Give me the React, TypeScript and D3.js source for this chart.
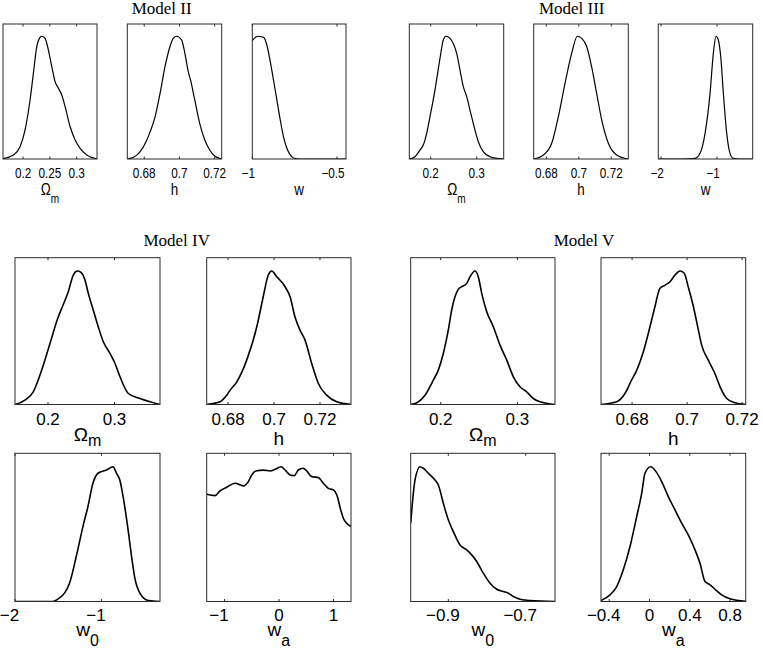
import React from "react";
import * as d3 from "d3";

// ---------------- data (x in parameter units, y = normalised posterior) ----------------
const m2OmegaM: [number, number][] = [
  [0.162, 0.003], [0.1819, 0.033], [0.1944, 0.1], [0.2037, 0.236], [0.2131, 0.481], [0.2193, 0.698],
  [0.2256, 0.915], [0.2305, 0.983], [0.2349, 1.0], [0.2411, 0.983], [0.2473, 0.888], [0.2536, 0.752],
  [0.2598, 0.63], [0.266, 0.576], [0.2723, 0.521], [0.2785, 0.426], [0.2879, 0.263], [0.2972, 0.155],
  [0.3065, 0.087], [0.319, 0.033], [0.338, 0.002],
];
const m2H: [number, number][] = [
  [0.6706, 0.002], [0.674, 0.014], [0.6777, 0.06], [0.6815, 0.155], [0.6834, 0.223], [0.6862, 0.345],
  [0.689, 0.535], [0.6918, 0.752], [0.6946, 0.915], [0.6965, 0.983], [0.6984, 1.0], [0.7012, 0.97],
  [0.7031, 0.861], [0.705, 0.712], [0.7063, 0.644], [0.7087, 0.481], [0.7115, 0.291], [0.7144, 0.155],
  [0.7172, 0.073], [0.72, 0.024], [0.7238, 0.002],
];
const m2W: [number, number][] = [
  [-1.0, 0.965], [-0.969, 1.0], [-0.934, 0.991], [-0.914, 0.929], [-0.894, 0.793], [-0.875, 0.644],
  [-0.855, 0.481], [-0.835, 0.318], [-0.816, 0.182], [-0.796, 0.087], [-0.776, 0.033], [-0.757, 0.008],
  [-0.718, 0.0], [-0.447, 0.0],
];
const m3OmegaM: [number, number][] = [
  [0.1535, 0.0], [0.1659, 0.019], [0.1767, 0.073], [0.1839, 0.114], [0.1913, 0.209], [0.1985, 0.345],
  [0.2093, 0.562], [0.2202, 0.82], [0.2274, 0.97], [0.2333, 1.0], [0.242, 0.983], [0.2491, 0.942],
  [0.2565, 0.861], [0.2637, 0.725], [0.2709, 0.589], [0.2783, 0.508], [0.2854, 0.399], [0.2963, 0.236],
  [0.3035, 0.141], [0.3143, 0.06], [0.3289, 0.019], [0.3435, 0.005], [0.3587, 0.0],
];
const m3H: [number, number][] = [
  [0.6722, 0.0], [0.6782, 0.033], [0.6833, 0.128], [0.6874, 0.345], [0.6915, 0.617], [0.6956, 0.861],
  [0.6991, 1.0], [0.7018, 0.983], [0.7049, 0.915], [0.7079, 0.752], [0.711, 0.535], [0.7141, 0.318],
  [0.7182, 0.128], [0.7233, 0.033], [0.7305, 0.0],
];
const m3W: [number, number][] = [
  [-2.05, 0.0], [-1.6, 0.0], [-1.393, 0.005], [-1.304, 0.046], [-1.214, 0.209], [-1.125, 0.535],
  [-1.066, 0.861], [-1.018, 1.0], [-0.977, 0.97], [-0.934, 0.834], [-0.887, 0.535], [-0.827, 0.209],
  [-0.768, 0.046], [-0.709, 0.005], [-0.6, 0.0], [-0.3625, 0.0],
];
const m4OmegaM: [number, number][] = [
  [0.1504, 0.0], [0.1654, 0.0325], [0.1779, 0.095], [0.1905, 0.2575], [0.203, 0.4575], [0.2155, 0.6575],
  [0.2206, 0.72], [0.2305, 0.845], [0.238, 0.97], [0.2441, 1.0], [0.2496, 0.99], [0.2556, 0.9325],
  [0.2606, 0.8325], [0.2681, 0.7075], [0.2756, 0.5825], [0.2832, 0.47], [0.2932, 0.3825], [0.3008, 0.3075],
  [0.3083, 0.2075], [0.3208, 0.0825], [0.3383, 0.045], [0.3534, 0.02], [0.3684, 0.0],
];
const m4H: [number, number][] = [
  [0.6707, 0.0], [0.6765, 0.02], [0.6794, 0.07], [0.6809, 0.1075], [0.6838, 0.17], [0.6881, 0.3325],
  [0.6925, 0.5825], [0.6953, 0.8075], [0.6975, 0.97], [0.699, 1.0], [0.7012, 0.9575], [0.7048, 0.8825],
  [0.707, 0.8075], [0.7091, 0.6575], [0.7113, 0.5575], [0.7135, 0.4825], [0.7164, 0.3075], [0.7193, 0.1575],
  [0.7229, 0.07], [0.7273, 0.02], [0.7335, 0.0],
];
const m4W0: [number, number][] = [
  [-2.0, 0.0], [-1.563, 0.0], [-1.505, 0.0173], [-1.427, 0.0618], [-1.369, 0.136], [-1.291, 0.334],
  [-1.214, 0.556], [-1.156, 0.705], [-1.098, 0.878], [-1.04, 0.952], [-0.942, 0.976], [-0.865, 1.0],
  [-0.826, 0.952], [-0.787, 0.902], [-0.749, 0.779], [-0.691, 0.531], [-0.651, 0.334], [-0.613, 0.173],
  [-0.555, 0.0618], [-0.458, 0.0074], [-0.322, 0.0],
];
const m4Wa: [number, number][] = [
  [-1.327, 0.796], [-1.174, 0.786], [-1.083, 0.821], [-0.96, 0.848], [-0.807, 0.878], [-0.655, 0.858],
  [-0.563, 0.89], [-0.501, 0.939], [-0.409, 0.971], [-0.288, 0.975], [-0.165, 0.969], [-0.073, 0.981],
  [0.037, 1.0], [0.11, 0.976], [0.202, 0.939], [0.281, 0.934], [0.354, 0.976], [0.446, 0.989],
  [0.508, 0.969], [0.6, 0.927], [0.721, 0.92], [0.813, 0.878], [0.905, 0.84], [0.997, 0.828],
  [1.07, 0.779], [1.132, 0.68], [1.18, 0.618], [1.242, 0.581], [1.321, 0.556],
];
const m5OmegaM: [number, number][] = [
  [0.1609, 0.0], [0.1708, 0.02], [0.1795, 0.07], [0.1904, 0.1825], [0.1969, 0.2575], [0.2034, 0.3825],
  [0.2099, 0.5575], [0.2143, 0.7075], [0.2186, 0.8075], [0.2229, 0.8625], [0.2274, 0.8825], [0.2339, 0.9075],
  [0.2382, 0.9575], [0.2447, 1.0], [0.249, 0.9575], [0.2535, 0.8325], [0.26, 0.695], [0.2686, 0.5825],
  [0.2773, 0.445], [0.2861, 0.3325], [0.2947, 0.2075], [0.3034, 0.1325], [0.3121, 0.095], [0.3207, 0.045],
  [0.3295, 0.02], [0.349, 0.0],
];
const m5H: [number, number][] = [
  [0.6687, 0.0], [0.6744, 0.02], [0.6774, 0.0825], [0.6798, 0.1825], [0.6817, 0.2575], [0.6841, 0.395],
  [0.6865, 0.5825], [0.6883, 0.7325], [0.6901, 0.87], [0.692, 0.895], [0.6938, 0.92], [0.6956, 0.97],
  [0.6974, 1.0], [0.6989, 0.985], [0.7004, 0.8825], [0.7023, 0.7325], [0.7041, 0.5575], [0.7053, 0.445],
  [0.7077, 0.3325], [0.7101, 0.2325], [0.712, 0.1325], [0.7144, 0.045], [0.7174, 0.0125], [0.7213, 0.0],
];
const m5W0: [number, number][] = [
  [-0.9972, 0.581], [-0.986, 0.902], [-0.9731, 1.0], [-0.9646, 0.989], [-0.9517, 0.952], [-0.9344, 0.902],
  [-0.9258, 0.865], [-0.9129, 0.73], [-0.9, 0.606], [-0.8871, 0.519], [-0.8698, 0.42], [-0.8525, 0.383],
  [-0.8396, 0.346], [-0.8266, 0.297], [-0.8096, 0.21], [-0.7922, 0.136], [-0.7749, 0.091], [-0.7579, 0.074],
  [-0.745, 0.062], [-0.732, 0.037], [-0.7147, 0.017], [-0.6889, 0.007], [-0.6243, 0.0],
];
const m5Wa: [number, number][] = [
  [-0.4816, 0.0074], [-0.3923, 0.049], [-0.3257, 0.111], [-0.2602, 0.235], [-0.1936, 0.408], [-0.1271, 0.63],
  [-0.0775, 0.803], [-0.0447, 0.952], [0.0119, 1.0], [0.0645, 0.964], [0.1211, 0.89], [0.1867, 0.779],
  [0.2532, 0.68], [0.3197, 0.581], [0.3853, 0.494], [0.4518, 0.383], [0.5015, 0.284], [0.5511, 0.148],
  [0.6008, 0.124], [0.6504, 0.091], [0.7169, 0.049], [0.7994, 0.02], [0.9553, 0.002],
];

// axis limits
const domM2Om: [number, number] = [0.1626, 0.338];
const domM2H: [number, number] = [0.6704, 0.724];
const domM2W: [number, number] = [-1.0, -0.447];
const domM3Om: [number, number] = [0.1535, 0.3587];
const domM3H: [number, number] = [0.6722, 0.7305];
const domM3W: [number, number] = [-2.05, -0.3625];
const domM4Om: [number, number] = [0.1504, 0.3684];
const domM4H: [number, number] = [0.6707, 0.7335];
const domM4W0: [number, number] = [-2.0, -0.322];
const domM4Wa: [number, number] = [-1.327, 1.321];
const domM5Om: [number, number] = [0.1609, 0.349];
const domM5H: [number, number] = [0.6687, 0.7213];
const domM5W0: [number, number] = [-0.9972, -0.6243];
const domM5Wa: [number, number] = [-0.4816, 0.9553];
const yDomain: [number, number] = [0, 1.1];

// tick values and labels
const ticksOmA = [0.2, 0.25, 0.3];
const labelsOmA = ["0.2", "0.25", "0.3"];
const ticksOm = [0.2, 0.3];
const labelsOm = ["0.2", "0.3"];
const ticksH = [0.68, 0.7, 0.72];
const labelsH = ["0.68", "0.7", "0.72"];
const ticksM2W = [-1, -0.5];
const labelsM2W = ["\u22121", "\u22120.5"];
const ticksM3W = [-2, -1];
const labelsM3W = ["\u22122", "\u22121"];
const ticksM4W0 = [-2, -1];
const labelsM4W0 = ["\u22122", "\u22121"];
const ticksM4Wa = [-1, 0, 1];
const labelsM4Wa = ["\u22121", "0", "1"];
const ticksM5W0 = [-0.9, -0.7];
const labelsM5W0 = ["\u22120.9", "\u22120.7"];
const ticksM5Wa = [-0.4, 0, 0.4, 0.8];
const labelsM5Wa = ["\u22120.4", "0", "0.4", "0.8"];

const titles = [
  { text: "Model II", x: 161.7, y: 13.5 },
  { text: "Model III", x: 571.7, y: 13.5 },
  { text: "Model IV", x: 176.7, y: 246 },
  { text: "Model V", x: 584, y: 246 },
];

// ---------------- layout ----------------
const SANS = "'Liberation Sans', Arial, Helvetica, sans-serif";
const SERIF = "'Liberation Serif', 'Times New Roman', serif";

type RowStyle = {
  y0: number; y1: number; tickSize: number; scaleX: number; tickOff: number;
  labSize: number; subSize: number; labOff: number; plainOff: number; subDy: number;
  negDx: number; lw: number;
};
const ROW1: RowStyle = { y0: 24, y1: 159, tickSize: 14, scaleX: 0.84, tickOff: 19, labSize: 16, subSize: 12, labOff: 36, plainOff: 36, subDy: 8, negDx: -4, lw: 1.2 };
const ROW2: RowStyle = { y0: 257.7, y1: 404.5, tickSize: 17, scaleX: 1, tickOff: 20.5, labSize: 19, subSize: 16, labOff: 36, plainOff: 40.5, subDy: 5, negDx: -5.5, lw: 1.6 };
const ROW3: RowStyle = { y0: 453.3, y1: 601.5, tickSize: 17, scaleX: 1, tickOff: 19, labSize: 19, subSize: 16, labOff: 34, plainOff: 34, subDy: 10, negDx: -5.5, lw: 1.6 };

type Panel = {
  id: string; x0: number; x1: number; row: RowStyle; domain: [number, number];
  ticks: number[]; labels: string[]; main: string; sub?: string; data: [number, number][];
};

const panels: Panel[] = [
  { id: "p1", x0: 3, x1: 97, row: ROW1, domain: domM2Om, ticks: ticksOmA, labels: labelsOmA, main: "\u03A9", sub: "m", data: m2OmegaM },
  { id: "p2", x0: 127.3, x1: 221.7, row: ROW1, domain: domM2H, ticks: ticksH, labels: labelsH, main: "h", data: m2H },
  { id: "p3", x0: 252.3, x1: 346, row: ROW1, domain: domM2W, ticks: ticksM2W, labels: labelsM2W, main: "w", data: m2W },
  { id: "p4", x0: 409.3, x1: 503.7, row: ROW1, domain: domM3Om, ticks: ticksOm, labels: labelsOm, main: "\u03A9", sub: "m", data: m3OmegaM },
  { id: "p5", x0: 533.7, x1: 628.3, row: ROW1, domain: domM3H, ticks: ticksH, labels: labelsH, main: "h", data: m3H },
  { id: "p6", x0: 658.3, x1: 752.7, row: ROW1, domain: domM3W, ticks: ticksM3W, labels: labelsM3W, main: "w", data: m3W },
  { id: "p7", x0: 15, x1: 160, row: ROW2, domain: domM4Om, ticks: ticksOm, labels: labelsOm, main: "\u03A9", sub: "m", data: m4OmegaM },
  { id: "p8", x0: 206.7, x1: 351, row: ROW2, domain: domM4H, ticks: ticksH, labels: labelsH, main: "h", data: m4H },
  { id: "p9", x0: 410.7, x1: 555, row: ROW2, domain: domM5Om, ticks: ticksOm, labels: labelsOm, main: "\u03A9", sub: "m", data: m5OmegaM },
  { id: "p10", x0: 601, x1: 745.7, row: ROW2, domain: domM5H, ticks: ticksH, labels: labelsH, main: "h", data: m5H },
  { id: "p11", x0: 15, x1: 160, row: ROW3, domain: domM4W0, ticks: ticksM4W0, labels: labelsM4W0, main: "w", sub: "0", data: m4W0 },
  { id: "p12", x0: 206.7, x1: 351, row: ROW3, domain: domM4Wa, ticks: ticksM4Wa, labels: labelsM4Wa, main: "w", sub: "a", data: m4Wa },
  { id: "p13", x0: 410.7, x1: 555, row: ROW3, domain: domM5W0, ticks: ticksM5W0, labels: labelsM5W0, main: "w", sub: "0", data: m5W0 },
  { id: "p14", x0: 601, x1: 745.7, row: ROW3, domain: domM5Wa, ticks: ticksM5Wa, labels: labelsM5Wa, main: "w", sub: "a", data: m5Wa },
];

function PanelView({ p }: { p: Panel }) {
  const r = p.row;
  const xs = d3.scaleLinear().domain(p.domain).range([p.x0, p.x1]);
  const ys = d3.scaleLinear().domain(yDomain).range([r.y1, r.y0]);
  const line = d3
    .line<[number, number]>()
    .x((d) => xs(d[0]))
    .y((d) => ys(d[1]))
    .curve(d3.curveMonotoneX);
  const cx = (p.x0 + p.x1) / 2;
  const labY = r.y1 + (p.sub ? r.labOff : r.plainOff);
  const tl = 2.5;
  return (
    <g>
      <defs>
        <clipPath id={"clip-" + p.id}>
          <rect x={p.x0} y={r.y0} width={p.x1 - p.x0} height={r.y1 - r.y0} />
        </clipPath>
      </defs>
      <path d={line(p.data) || ""} fill="none" stroke="#000" strokeWidth={r.lw} strokeLinejoin="round" clipPath={`url(#clip-${p.id})`} />
      <rect x={p.x0} y={r.y0} width={p.x1 - p.x0} height={r.y1 - r.y0} fill="none" stroke="#2a2a2a" strokeWidth={1} />
      {p.ticks.map((t, i) => {
        const x = xs(t);
        return (
          <g key={i}>
            <line x1={x} x2={x} y1={r.y1} y2={r.y1 - tl} stroke="#2a2a2a" strokeWidth={1} />
            <line x1={x} x2={x} y1={r.y0} y2={r.y0 + tl} stroke="#2a2a2a" strokeWidth={1} />
            <text
              transform={`translate(${x + (t < 0 ? r.negDx : 0)},${r.y1 + r.tickOff}) scale(${r.scaleX},1)`}
              textAnchor="middle"
              fontFamily={SANS}
              fontSize={r.tickSize}
              fill="#000"
            >
              {p.labels[i]}
            </text>
          </g>
        );
      })}
      <text transform={`translate(${cx},${labY}) scale(${r.scaleX},1)`} textAnchor="middle" fontFamily={SANS} fontSize={r.labSize} fill="#000">
        {p.main}
        {p.sub ? (
          <tspan dy={r.subDy} fontSize={r.subSize}>
            {p.sub}
          </tspan>
        ) : null}
      </text>
    </g>
  );
}

export default function App() {
  return (
    <svg
      width={763}
      height={652}
      viewBox="0 0 763 652"
      style={{ position: "absolute", left: 0, top: 0, background: "#fff", display: "block" }}
    >
      <rect x={0} y={0} width={763} height={652} fill="#fff" />
      {titles.map((t) => (
        <text key={t.text} x={t.x} y={t.y} textAnchor="middle" fontFamily={SERIF} fontSize={17} fill="#000">
          {t.text}
        </text>
      ))}
      {panels.map((p) => (
        <PanelView key={p.id} p={p} />
      ))}
    </svg>
  );
}
